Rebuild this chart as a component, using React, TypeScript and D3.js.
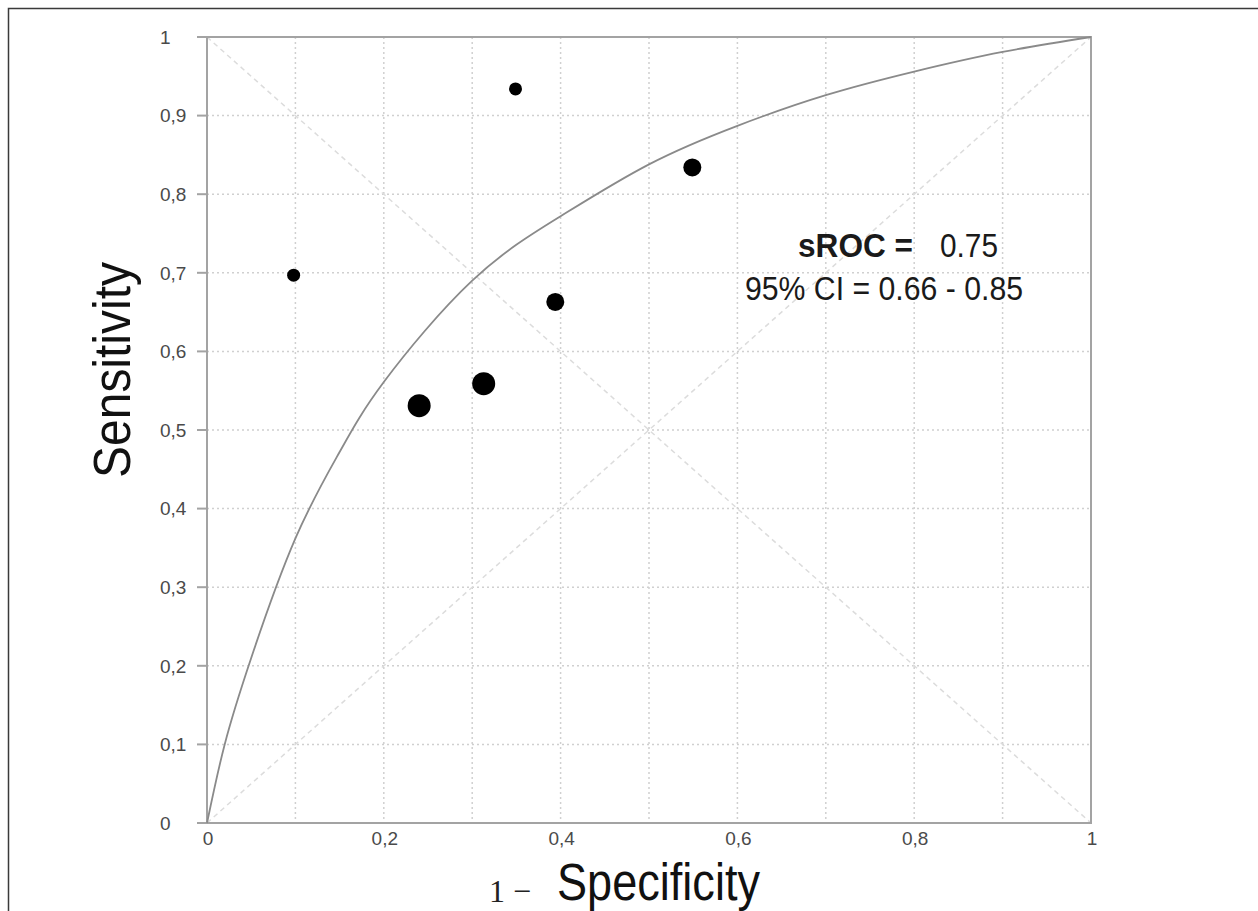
import React, { useRef, useEffect } from 'react';
import { select, scaleLinear, line, curveNatural, range } from 'd3';

// summary ROC curve
const curveFpr = [0, 0.02, 0.05, 0.1, 0.15, 0.2, 0.3, 0.4, 0.5, 0.6, 0.7, 0.8, 0.9, 1];
const curveSens = [0, 0.1, 0.21, 0.362, 0.472, 0.561, 0.69, 0.772, 0.838, 0.887, 0.926, 0.956, 0.981, 1];

// individual studies
const studyFpr = [0.098, 0.349, 0.549, 0.394, 0.313, 0.24];
const studySens = [0.697, 0.934, 0.834, 0.663, 0.559, 0.531];
const studyWeight = [1, 1, 2, 2, 3, 3];

const yTicks = [0, 0.1, 0.2, 0.3, 0.4, 0.5, 0.6, 0.7, 0.8, 0.9, 1];
const xTicks = [0, 0.2, 0.4, 0.6, 0.8, 1];
const gridTicks = [0.1, 0.2, 0.3, 0.4, 0.5, 0.6, 0.7, 0.8, 0.9];

const fmt = (v: number) => (v === 0 || v === 1 ? String(v) : v.toFixed(1).replace('.', ','));

const SrocChart = () => {
  const svgRef = useRef<SVGSVGElement>(null);

  useEffect(() => {
    const svg = select(svgRef.current);
    svg.selectAll('*').remove();

    const left = 207;
    const right = 1091;
    const top = 37;
    const bottom = 823;

    const xScale = scaleLinear().domain([0, 1]).range([left, right]);
    const yScale = scaleLinear().domain([0, 1]).range([bottom, top]);
    const rScale = scaleLinear().domain([1, 3]).range([6.5, 11.5]);

    // outer frame
    svg
      .append('rect')
      .attr('x', 8.5)
      .attr('y', 8.5)
      .attr('width', 1400)
      .attr('height', 1000)
      .attr('fill', 'none')
      .attr('stroke', '#3a3a3a')
      .attr('stroke-width', 1.5);

    // grid
    const grid = svg.append('g').attr('class', 'grid');
    grid
      .selectAll('.vgrid')
      .data(gridTicks)
      .join('line')
      .attr('x1', d => xScale(d))
      .attr('x2', d => xScale(d))
      .attr('y1', top)
      .attr('y2', bottom)
      .attr('stroke', '#d0d0d0')
      .attr('stroke-width', 1.5)
      .attr('stroke-dasharray', '2 3');
    grid
      .selectAll('.hgrid')
      .data(gridTicks)
      .join('line')
      .attr('x1', left)
      .attr('x2', right)
      .attr('y1', d => yScale(d))
      .attr('y2', d => yScale(d))
      .attr('stroke', '#d0d0d0')
      .attr('stroke-width', 1.5)
      .attr('stroke-dasharray', '2 3');

    // diagonals
    const diag = [
      [[0, 0], [1, 1]],
      [[0, 1], [1, 0]]
    ];
    grid
      .selectAll('.diag')
      .data(diag)
      .join('line')
      .attr('x1', d => xScale(d[0][0]))
      .attr('y1', d => yScale(d[0][1]))
      .attr('x2', d => xScale(d[1][0]))
      .attr('y2', d => yScale(d[1][1]))
      .attr('stroke', '#dcdcdc')
      .attr('stroke-width', 1.5)
      .attr('stroke-dasharray', '5 4');

    // box + axes
    svg
      .append('rect')
      .attr('x', left)
      .attr('y', top)
      .attr('width', right - left)
      .attr('height', bottom - top)
      .attr('fill', 'none')
      .attr('stroke', '#a3a3a3')
      .attr('stroke-width', 2);

    const tickFont = '"Liberation Sans", Arial, sans-serif';
    const yAxis = svg.append('g').attr('class', 'y-axis');
    yAxis
      .selectAll('line')
      .data(yTicks)
      .join('line')
      .attr('x1', left - 10)
      .attr('x2', left)
      .attr('y1', d => yScale(d))
      .attr('y2', d => yScale(d))
      .attr('stroke', '#a3a3a3')
      .attr('stroke-width', 2);
    yAxis
      .selectAll('text')
      .data(yTicks)
      .join('text')
      .attr('x', 160)
      .attr('y', d => yScale(d))
      .attr('dy', '0.36em')
      .attr('font-size', 19)
      .attr('font-family', tickFont)
      .attr('fill', '#4a4a4a')
      .text(fmt);

    const xAxis = svg.append('g').attr('class', 'x-axis');
    xAxis
      .selectAll('text')
      .data(xTicks)
      .join('text')
      .attr('x', d => xScale(d) + 1)
      .attr('y', bottom + 22)
      .attr('text-anchor', 'middle')
      .attr('font-size', 19)
      .attr('font-family', tickFont)
      .attr('fill', '#4a4a4a')
      .text(fmt);

    // sROC curve
    const pts = curveFpr.map((f, i) => [f, curveSens[i]] as [number, number]);
    const lineGenerator = line<[number, number]>()
      .x(d => xScale(d[0]))
      .y(d => yScale(d[1]))
      .curve(curveNatural);
    svg
      .append('path')
      .datum(pts)
      .attr('d', lineGenerator)
      .attr('fill', 'none')
      .attr('stroke', '#8a8a8a')
      .attr('stroke-width', 1.8);

    // studies
    svg
      .selectAll('.study')
      .data(range(studyFpr.length))
      .join('circle')
      .attr('class', 'study')
      .attr('cx', i => xScale(studyFpr[i]))
      .attr('cy', i => yScale(studySens[i]))
      .attr('r', i => rScale(studyWeight[i]))
      .attr('fill', '#000');

    // annotation
    const sans = '"Liberation Sans", Arial, sans-serif';
    svg
      .append('text')
      .attr('x', 798)
      .attr('y', 257)
      .attr('font-size', 33)
      .attr('font-weight', 'bold')
      .attr('font-family', sans)
      .attr('fill', '#1a1a1a')
      .attr('textLength', 115)
      .attr('lengthAdjust', 'spacingAndGlyphs')
      .text('sROC =');
    svg
      .append('text')
      .attr('x', 940)
      .attr('y', 257)
      .attr('font-size', 33)
      .attr('font-family', sans)
      .attr('fill', '#1a1a1a')
      .attr('textLength', 58)
      .attr('lengthAdjust', 'spacingAndGlyphs')
      .text('0.75');
    svg
      .append('text')
      .attr('x', 745)
      .attr('y', 300)
      .attr('font-size', 33)
      .attr('font-family', sans)
      .attr('fill', '#1a1a1a')
      .attr('textLength', 278)
      .attr('lengthAdjust', 'spacingAndGlyphs')
      .text('95% CI = 0.66 - 0.85');

    // axis titles
    svg
      .append('text')
      .attr('transform', 'translate(130, 478) rotate(-90)')
      .attr('font-size', 51)
      .attr('font-family', sans)
      .attr('fill', '#111')
      .attr('textLength', 216)
      .attr('lengthAdjust', 'spacingAndGlyphs')
      .text('Sensitivity');
    svg
      .append('text')
      .attr('x', 489)
      .attr('y', 902)
      .attr('font-size', 32)
      .attr('font-family', '"Liberation Serif", "Times New Roman", serif')
      .attr('fill', '#222')
      .text('1 −');
    svg
      .append('text')
      .attr('x', 557)
      .attr('y', 900)
      .attr('font-size', 51)
      .attr('font-family', sans)
      .attr('fill', '#111')
      .attr('textLength', 203)
      .attr('lengthAdjust', 'spacingAndGlyphs')
      .text('Specificity');
  }, []);

  return (
    <svg
      ref={svgRef}
      width={1258}
      height={911}
      style={{ position: 'absolute', left: 0, top: 0, background: '#fff' }}
    />
  );
};

export default function App() {
  return <SrocChart />;
}
